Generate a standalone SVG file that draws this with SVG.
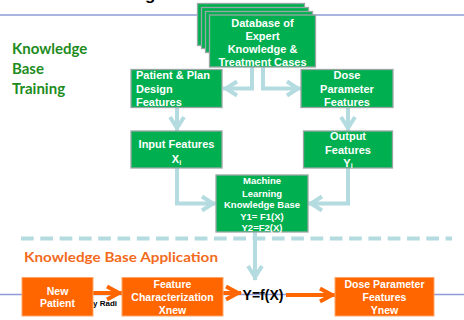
<svg xmlns="http://www.w3.org/2000/svg" width="464" height="320" viewBox="0 0 464 320">
  <style>
    .g{fill:#00b050;stroke:#9aa6a6;stroke-width:1.3}
    .o{fill:#ff6600;stroke:#ffa566;stroke-width:1}
    .wt{font-family:"Liberation Sans",Arial,sans-serif;font-weight:bold;fill:#fff;font-size:11px}
    .c{text-anchor:middle}
    .ml{font-size:9.5px}
    .ot{font-size:10.5px}
    .hd{font-family:Lato,"Open Sans",sans-serif;font-weight:bold}
    .bl{fill:none;stroke:#b4dbe0;stroke-width:4}
    .or{fill:none;stroke:#ff6600;stroke-width:4}
    .rule{stroke:#8e9bd6;stroke-width:1.3}
  </style>
  <defs>
    <marker id="ab" viewBox="-16 -10 20 20" refX="0" refY="0" markerWidth="20" markerHeight="20" orient="auto" markerUnits="userSpaceOnUse">
      <path d="M-14,-7 L-3,0 L-14,7" fill="none" stroke="#b4dbe0" stroke-width="4"/>
    </marker>
    <marker id="ao" viewBox="-18 -10 22 20" refX="0" refY="0" markerWidth="22" markerHeight="20" orient="auto" markerUnits="userSpaceOnUse">
      <path d="M-15,-6.5 L-3,0 L-15,6.5" fill="none" stroke="#ff6600" stroke-width="4"/>
    </marker>
  </defs>

  <rect width="464" height="320" fill="#fff"/>

  <!-- slide rules and partial texts -->
  <line class="rule" x1="0" y1="15" x2="464" y2="15"/>
  <line class="rule" x1="0" y1="294.5" x2="464" y2="294.5"/>
  <text x="145" y="-0.5" font-family="Liberation Sans,Arial,sans-serif" font-weight="bold" font-size="17" fill="#000">g</text>
  <text x="93" y="306" font-family="Liberation Sans,Arial,sans-serif" font-weight="bold" font-size="8" fill="#000">y Radi</text>

  <!-- section titles -->
  <g id="title-training" class="hd" fill="#1e8c1e" font-size="15">
    <text x="12" y="53.5">Knowledge</text>
    <text x="12" y="73.5">Base</text>
    <text x="12" y="93.5">Training</text>
  </g>
  <text id="title-application" class="hd" x="24" y="262" fill="#f26b1d" font-size="14" textLength="194" lengthAdjust="spacingAndGlyphs">Knowledge Base Application</text>

  <!-- dashed separator -->
  <line x1="21" y1="238.5" x2="452" y2="238.5" stroke="#b4dbe0" stroke-width="4" stroke-dasharray="12.7 6.6"/>

  <!-- connectors -->
  <g id="connectors">
    <path class="bl" d="M252,67 V88.5 H223" marker-end="url(#ab)"/>
    <path class="bl" d="M263,67 V88.5 H301" marker-end="url(#ab)"/>
    <path class="bl" d="M177,108 V131" marker-end="url(#ab)"/>
    <path class="bl" d="M348,108 V131" marker-end="url(#ab)"/>
    <path class="bl" d="M177,168 V203.5 H216" marker-end="url(#ab)"/>
    <path class="bl" d="M348,168 V203.5 H308" marker-end="url(#ab)"/>
    <path class="bl" d="M255,232 V280" marker-end="url(#ab)"/>
    <path class="or" d="M93,293 H122" marker-end="url(#ao)"/>
    <path class="or" d="M223,293 H241" marker-end="url(#ao)"/>
    <path class="or" d="M286,295 H335" marker-end="url(#ao)"/>
  </g>

  <!-- nodes -->
  <g id="database">
    <rect class="g" x="197.5" y="3.5" width="107" height="42"/>
    <rect class="g" x="201.5" y="7.5" width="107" height="41"/>
    <rect class="g" x="205.5" y="11.5" width="107" height="41"/>
    <rect class="g" x="209.5" y="15" width="106" height="52"/>
    <text class="wt c" x="262.5" y="26.5">Database of</text>
    <text class="wt c" x="262.5" y="39.5">Expert</text>
    <text class="wt c" x="262.5" y="52.5">Knowledge &amp;</text>
    <text class="wt c" x="262.5" y="65.5">Treatment Cases</text>
  </g>

  <g id="patient-plan">
    <rect class="g" x="131" y="69.5" width="91" height="38"/>
    <text class="wt" x="136" y="79">Patient &amp; Plan</text>
    <text class="wt" x="136" y="92.5">Design</text>
    <text class="wt" x="136" y="105.5">Features</text>
  </g>

  <g id="dose-params">
    <rect class="g" x="301" y="69.5" width="92" height="38"/>
    <text class="wt c" x="347" y="79">Dose</text>
    <text class="wt c" x="347" y="92.5">Parameter</text>
    <text class="wt c" x="347" y="105.5">Features</text>
  </g>

  <g id="input-features">
    <rect class="g" x="131" y="131" width="91" height="37"/>
    <text class="wt c" x="176.5" y="147.5">Input Features</text>
    <text class="wt c" x="176.5" y="162.5">X<tspan font-size="7" dy="2">i</tspan></text>
  </g>

  <g id="output-features">
    <rect class="g" x="303.5" y="131" width="89" height="37"/>
    <text class="wt c" x="348" y="140">Output</text>
    <text class="wt c" x="348" y="153.5">Features</text>
    <text class="wt c" x="348" y="166.5">Y<tspan font-size="7" dy="1.5">i</tspan></text>
  </g>

  <g id="ml-kb">
    <rect class="g" x="216" y="175" width="92" height="57"/>
    <text class="wt ml c" x="262" y="184">Machine</text>
    <text class="wt ml c" x="262" y="196.5">Learning</text>
    <text class="wt ml c" x="262" y="207.5">Knowledge Base</text>
    <text class="wt ml c" x="262" y="219.5">Y1= F1(X)</text>
    <text class="wt ml c" x="262" y="231">Y2=F2(X)</text>
  </g>

  <g id="new-patient">
    <rect class="o" x="22" y="277.5" width="71" height="38.5"/>
    <text class="wt ot c" x="57.5" y="294.5">New</text>
    <text class="wt ot c" x="57.5" y="307">Patient</text>
  </g>

  <g id="feature-char">
    <rect class="o" x="122" y="277.5" width="101" height="38.5"/>
    <text class="wt ot c" x="172.5" y="288">Feature</text>
    <text class="wt ot c" x="172.5" y="300.5">Characterization</text>
    <text class="wt ot c" x="172.5" y="313.5">Xnew</text>
  </g>

  <g id="yfx">
    <text x="263" y="300" text-anchor="middle" font-family="Liberation Sans,Arial,sans-serif" font-weight="bold" font-size="14" fill="#000">Y=f(X)</text>
  </g>

  <g id="dose-new">
    <rect class="o" x="335" y="277.5" width="99" height="38.5"/>
    <text class="wt ot c" x="384.5" y="288">Dose Parameter</text>
    <text class="wt ot c" x="384.5" y="300.5">Features</text>
    <text class="wt ot c" x="384.5" y="313.5">Ynew</text>
  </g>
</svg>
